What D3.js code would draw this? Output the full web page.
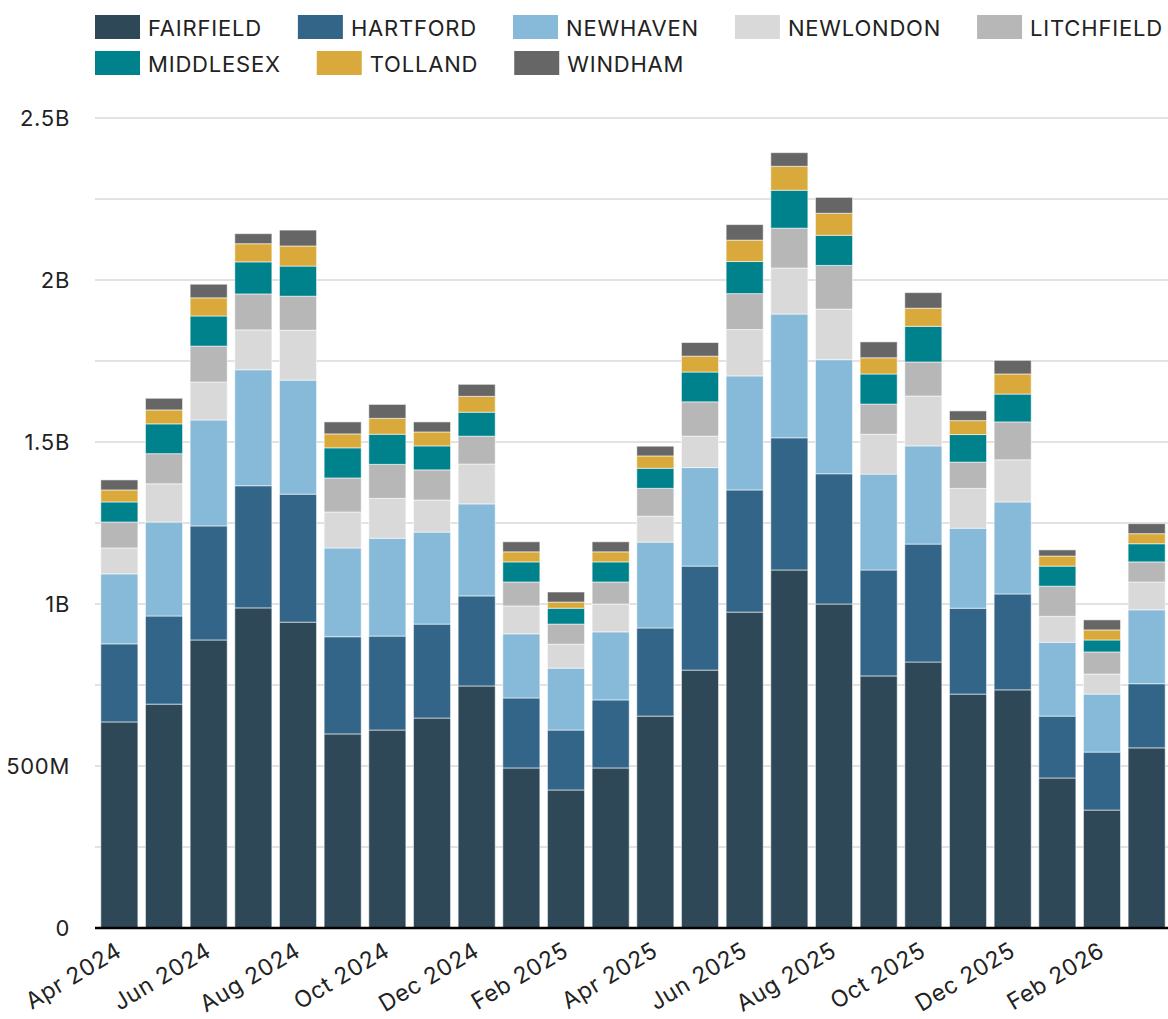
<!DOCTYPE html>
<html>
<head>
<meta charset="utf-8">
<script src="https://cdn.jsdelivr.net/npm/d3@7"></script>
<style>
  html, body { margin: 0; padding: 0; background: #fff; }
  svg { display: block; font-family: Inter, "Noto Sans", sans-serif; }
</style>
</head>
<body>
<svg id="chart" width="1168" height="1019"></svg>
<script>
// ---- data (values in millions) ----
const months = ["Apr 2024","May 2024","Jun 2024","Jul 2024","Aug 2024","Sep 2024","Oct 2024","Nov 2024","Dec 2024",
  "Jan 2025","Feb 2025","Mar 2025","Apr 2025","May 2025","Jun 2025","Jul 2025","Aug 2025","Sep 2025","Oct 2025",
  "Nov 2025","Dec 2025","Jan 2026","Feb 2026","Mar 2026"];
const counties = ["FAIRFIELD","HARTFORD","NEWHAVEN","NEWLONDON","LITCHFIELD","MIDDLESEX","TOLLAND","WINDHAM"];
const colors = ["#2f4858","#336589","#86bad8","#d9d9d9","#b7b7b7","#00828c","#d9aa3b","#666666"];
const fairfield  = [636,691,889,988,944,599,611,648,747,494,426,494,654,796,975,1105,1000,778,821,722,735,463,364,556];
const hartford   = [241,272,352,377,395,300,290,290,278,216,185,210,272,321,377,408,402,327,364,265,296,191,179,198];
const newhaven   = [216,290,327,358,352,274,302,284,284,198,191,210,265,304,352,382,352,296,303,247,284,228,179,228];
const newlondon  = [80,118,117,123,154,111,123,99,123,86,74,86,80,97,143,142,156,123,154,123,130,80,62,86];
const litchfield = [80,93,111,111,105,105,105,93,86,74,62,68,86,106,111,123,135,93,105,81,117,93,68,62];
const middlesex  = [62,92,93,99,93,93,93,74,74,62,49,62,62,92,99,117,93,93,110,85,86,62,37,56];
const tolland    = [37,43,56,56,62,43,49,43,49,31,19,31,38,49,66,74,68,50,56,43,62,31,31,31];
const windham    = [31,36,42,31,49,37,43,31,37,31,31,31,30,42,48,42,49,49,48,30,42,19,31,31];
const yTicks = [0, 500, 1000, 1500, 2000, 2500];
const yTickLabels = ["0","500M","1B","1.5B","2B","2.5B"];
const gridValues = [250, 500, 750, 1000, 1250, 1500, 1750, 2000, 2250, 2500];

const seriesArrays = [fairfield, hartford, newhaven, newlondon, litchfield, middlesex, tolland, windham];
const table = months.map((m, i) => {
  const row = { month: m };
  counties.forEach((c, k) => row[c] = seriesArrays[k][i]);
  return row;
});

// ---- layout ----
const svg = d3.select("#chart");
const W = 1168;
const plotLeft = 95, plotRight = 1168, y0 = 928, yTop = 118;

const x = d3.scaleBand().domain(months).range([95, 1171]).paddingInner(0.17).paddingOuter(0.13);
const y = d3.scaleLinear().domain([0, 2500]).range([y0, yTop]);
const color = d3.scaleOrdinal().domain(counties).range(colors);

// gridlines
svg.append("g").selectAll("line").data(gridValues).join("line")
  .attr("x1", plotLeft).attr("x2", plotRight)
  .attr("y1", d => y(d)).attr("y2", d => y(d))
  .attr("stroke", "#e2e2e2").attr("stroke-width", 2);

// y axis labels
const yAxis = d3.axisLeft(y).tickValues(yTicks).tickSize(0).tickPadding(0)
  .tickFormat(d => yTickLabels[yTicks.indexOf(d)]);
const gy = svg.append("g").attr("transform", `translate(70,0)`).call(yAxis);
gy.select(".domain").remove();
gy.selectAll("text").attr("font-size", 22).attr("fill", "#222")
  .attr("font-family", "Inter, sans-serif").attr("letter-spacing", 0.7);

// stacked bars
const stack = d3.stack().keys(counties);
const stacked = stack(table);
svg.append("g").selectAll("g").data(stacked).join("g")
  .attr("fill", d => color(d.key))
  .selectAll("rect").data(d => d).join("rect")
  .attr("x", d => x(d.data.month))
  .attr("width", x.bandwidth())
  .attr("y", d => y(d[1]))
  .attr("height", d => y(d[0]) - y(d[1]))
  .attr("stroke", "rgba(255,255,255,0.55)")
  .attr("stroke-width", 1);

// x axis
const xAxis = d3.axisBottom(x).tickSize(0).tickPadding(0)
  .tickValues(months.filter((m, i) => i % 2 === 0));
const gx = svg.append("g").attr("transform", `translate(0,${y0})`).call(xAxis);
gx.select(".domain").remove();
gx.selectAll(".tick text")
  .attr("font-size", 23).attr("fill", "#222").attr("font-family", "Inter, sans-serif")
  .attr("letter-spacing", 0.6)
  .attr("text-anchor", "end")
  .attr("dy", null).attr("y", null)
  .attr("transform", "translate(4,27) rotate(-31)");

svg.append("line").attr("x1", plotLeft).attr("x2", plotRight)
  .attr("y1", y0).attr("y2", y0).attr("stroke", "#000").attr("stroke-width", 2.5);

// legend (flow layout)
const legend = svg.append("g");
let lx = 95, ly = 27;
const swW = 45, swH = 24, gapText = 8, gapItem = 36;
counties.forEach((c, k) => {
  const g = legend.append("g");
  const t = g.append("text").text(c).attr("font-size", 22).attr("fill", "#222")
    .attr("letter-spacing", 0.8)
    .attr("dominant-baseline", "central").attr("font-family", "Inter, sans-serif");
  const tw = t.node().getComputedTextLength();
  if (lx + swW + gapText + tw > W + 4) { lx = 95; ly += 36; }
  g.append("rect").attr("x", lx).attr("y", ly - swH / 2).attr("width", swW).attr("height", swH)
    .attr("fill", colors[k]);
  t.attr("x", lx + swW + gapText).attr("y", ly + 1);
  lx += swW + gapText + tw + gapItem;
});
</script>
</body>
</html>
